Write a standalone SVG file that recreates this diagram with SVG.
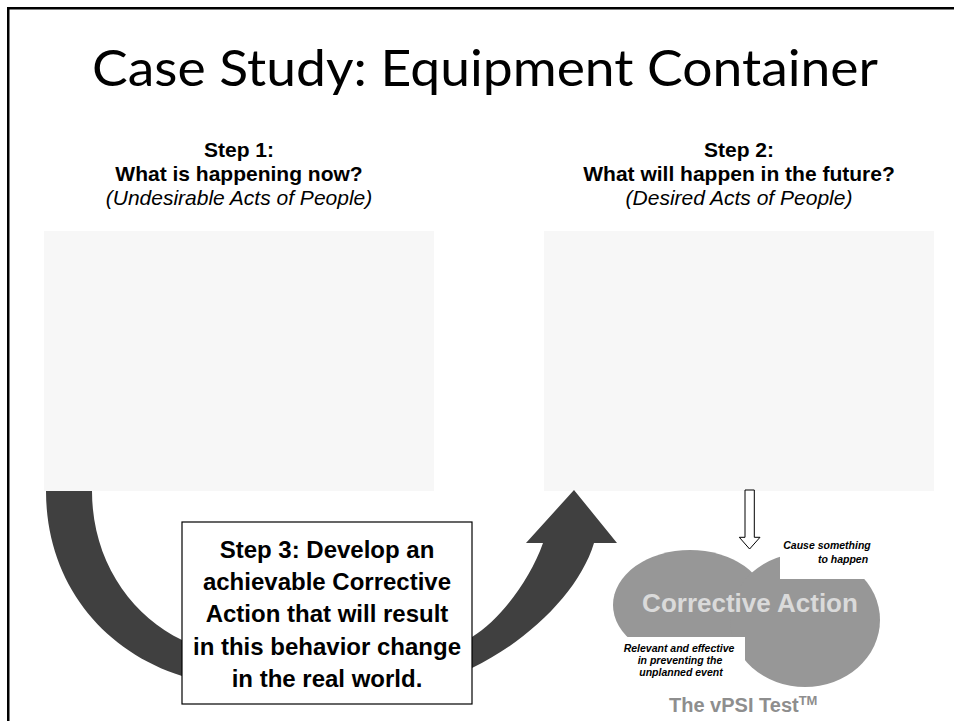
<svg xmlns="http://www.w3.org/2000/svg" width="954" height="721" viewBox="0 0 954 721">
  <style>
    .title { font-family: "Lato", "Open Sans", sans-serif; font-size: 50px; fill: #000; }
    .head { font-family: "Liberation Sans", Arial, sans-serif; font-size: 21px; font-weight: bold; fill: #000; text-anchor: middle; }
    .sub { font-family: "Liberation Sans", Arial, sans-serif; font-size: 21px; font-style: italic; fill: #000; text-anchor: middle; }
    .panel { fill: #f7f7f7; }
    .step3 { font-family: "Liberation Sans", Arial, sans-serif; font-size: 24px; font-weight: bold; fill: #000; text-anchor: middle; }
    .note { font-family: "Liberation Sans", Arial, sans-serif; font-size: 10.5px; font-weight: bold; font-style: italic; fill: #000; text-anchor: middle; }
    .ca { font-family: "Liberation Sans", Arial, sans-serif; font-size: 26px; font-weight: bold; fill: #dadada; text-anchor: middle; }
    .brand { font-family: "Liberation Sans", Arial, sans-serif; font-size: 20px; font-weight: bold; fill: #8e8e8e; }
  </style>

  <rect width="954" height="721" fill="#fff"/>
  <!-- slide frame: left and top rules -->
  <path d="M8.25 721 V8.25 H954" fill="none" stroke="#000" stroke-width="2.5"/>

  <text class="title" x="92" y="86" textLength="786" lengthAdjust="spacingAndGlyphs">Case Study: Equipment Container</text>

  <!-- Step 1 panel -->
  <g id="step1">
    <text class="head" x="239" y="157">Step 1:</text>
    <text class="head" x="239" y="181">What is happening now?</text>
    <text class="sub" x="239" y="205">(Undesirable Acts of People)</text>
    <rect class="panel" x="44" y="231" width="390" height="260"/>
  </g>

  <!-- Step 2 panel -->
  <g id="step2">
    <text class="head" x="739" y="157">Step 2:</text>
    <text class="head" x="739" y="181">What will happen in the future?</text>
    <text class="sub" x="739" y="205">(Desired Acts of People)</text>
    <rect class="panel" x="544" y="231" width="390" height="260"/>
  </g>

  <!-- curved transition arrow and down arrow -->
  <g id="connectors">
    <path d="M46 491 C46 580 100 650 182 676 C240 695 400 700 472 668 C530 640 580 590 594 543 L617 543 L574 490 L526 543 L543 543 C530 580 500 620 472 637 C400 670 250 665 182 640 C130 615 92 560 92 491 Z" fill="#404040"/>
    <path d="M745 490 H754.3 V537.3 H760 L749.6 549 L739.3 537.3 H745 Z" fill="#fff" stroke="#000" stroke-width="1"/>
  </g>

  <!-- Step 3 box -->
  <g id="step3">
    <rect x="182" y="522" width="290" height="182" fill="#fff" stroke="#000" stroke-width="1.2"/>
    <text class="step3" x="327" y="558">Step 3: Develop an</text>
    <text class="step3" x="327" y="590">achievable Corrective</text>
    <text class="step3" x="327" y="622">Action that will result</text>
    <text class="step3" x="327" y="655">in this behavior change</text>
    <text class="step3" x="327" y="687">in the real world.</text>
  </g>

  <!-- Corrective Action cloud -->
  <g id="corrective-action">
    <ellipse cx="690" cy="605" rx="77" ry="55" fill="#979797"/>
    <ellipse cx="805" cy="620" rx="75" ry="67" fill="#979797"/>
    <text class="ca" x="750" y="612">Corrective Action</text>
  </g>

  <g id="note-cause">
    <rect x="780" y="527" width="95" height="52" fill="#fff"/>
    <text class="note" x="827" y="549">Cause something</text>
    <text class="note" x="843" y="563">to happen</text>
  </g>

  <g id="note-relevant">
    <rect x="612" y="637" width="133" height="48" fill="#fff"/>
    <text class="note" x="679" y="652">Relevant and effective</text>
    <text class="note" x="680" y="664">in preventing the</text>
    <text class="note" x="681" y="676">unplanned event</text>
  </g>

  <g id="brand">
    <text class="brand" x="669" y="712">The vPSI Test<tspan font-size="13" dy="-7">TM</tspan></text>
  </g>
</svg>
